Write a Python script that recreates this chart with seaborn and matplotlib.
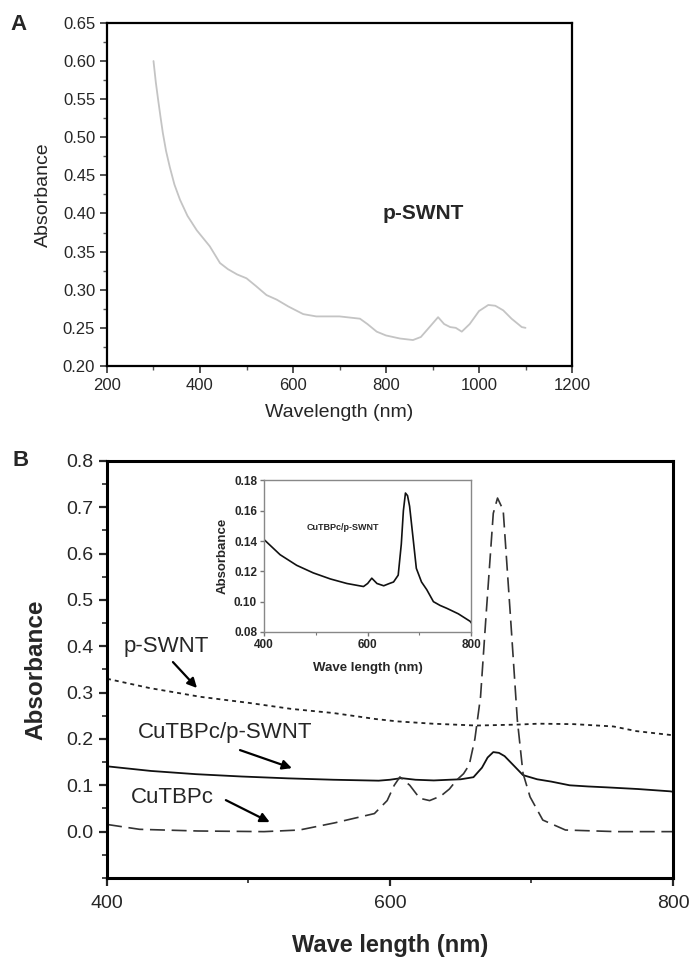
import numpy as np
import pandas as pd
import matplotlib
matplotlib.use("Agg")
import matplotlib.pyplot as plt
from matplotlib.ticker import MultipleLocator, FixedLocator
import seaborn as sns

# ---------------- data ----------------
# Panel A: p-SWNT spectrum
a_wl = [300, 305, 310, 315, 320, 327, 335, 345, 357, 373, 393, 421, 443, 460, 480, 500,
        520, 543, 565, 590, 622, 650, 700, 744, 760, 780, 800, 830, 858, 875, 895, 912,
        925, 938, 950, 963, 980, 1000, 1020, 1035, 1052, 1070, 1092, 1100]
a_abs = [0.600, 0.572, 0.549, 0.527, 0.506, 0.482, 0.461, 0.438, 0.418, 0.397, 0.378,
         0.357, 0.335, 0.327, 0.320, 0.315, 0.305, 0.293, 0.287, 0.278, 0.268, 0.265,
         0.265, 0.262, 0.255, 0.245, 0.240, 0.236, 0.234, 0.238, 0.252, 0.264, 0.255,
         0.251, 0.250, 0.245, 0.255, 0.272, 0.280, 0.279, 0.273, 0.262, 0.251, 0.250]

# Panel B: p-SWNT (dotted)
p_wl = [400, 430, 466, 500, 530, 560, 590, 605, 630, 661, 690, 705, 730, 758, 774, 800]
p_abs = [0.330, 0.310, 0.291, 0.278, 0.265, 0.256, 0.243, 0.238, 0.233, 0.229, 0.231,
         0.233, 0.232, 0.227, 0.217, 0.208]

# Panel B: CuTBPc/p-SWNT (solid, also inset)
c_wl = [400, 431, 463, 495, 528, 560, 592, 600, 608, 618, 631, 642, 650, 659, 665, 669,
        673, 677, 681, 688, 694, 704, 714, 727, 740, 753, 775, 798, 800]
c_abs = [0.141, 0.131, 0.124, 0.119, 0.115, 0.112, 0.110, 0.112, 0.1155, 0.112, 0.1105,
         0.112, 0.113, 0.1175, 0.138, 0.160, 0.1717, 0.170, 0.163, 0.141, 0.122, 0.113,
         0.108, 0.100, 0.0975, 0.0956, 0.092, 0.087, 0.086]

# Panel B: CuTBPc (long dashes)
d_wl = [400, 423, 464, 511, 536, 561, 589, 598, 603, 607, 614, 621, 628, 636, 642, 647,
        652, 656, 660, 664, 668, 673, 676, 680, 685, 690, 694, 699, 708, 724, 760, 800]
d_abs = [0.0155, 0.005, 0.0014, 0.0, 0.0035, 0.019, 0.039, 0.067, 0.100, 0.118, 0.100,
         0.072, 0.067, 0.077, 0.092, 0.111, 0.125, 0.144, 0.200, 0.291, 0.471, 0.687,
         0.720, 0.694, 0.471, 0.241, 0.126, 0.075, 0.025, 0.0035, 0.0, 0.0]

# ---------------- style ----------------
sns.set_style("ticks")
plt.rcParams['font.family'] = ['Liberation Sans', 'DejaVu Sans']
plt.rcParams['xtick.direction'] = 'out'
plt.rcParams['ytick.direction'] = 'out'

fig = plt.figure(figsize=(6.93, 9.59), dpi=100)

# ---------------- Panel A ----------------
axA = fig.add_axes([0.1544, 0.6184, 0.671, 0.3577])
dfA = pd.DataFrame({"wl": a_wl, "abs": a_abs})
sns.lineplot(data=dfA, x="wl", y="abs", ax=axA, color="#c4c4c4", linewidth=1.3,
             estimator=None, sort=False)
axA.set_xlim(200, 1200)
axA.set_ylim(0.20, 0.65)
axA.xaxis.set_major_locator(MultipleLocator(200))
axA.xaxis.set_minor_locator(MultipleLocator(100))
axA.yaxis.set_major_locator(MultipleLocator(0.05))
axA.yaxis.set_minor_locator(MultipleLocator(0.025))
axA.yaxis.set_major_formatter(matplotlib.ticker.FormatStrFormatter('%.2f'))
axA.tick_params(axis='both', which='major', labelsize=12, length=5, width=1.2, color='#333333')
axA.tick_params(axis='both', which='minor', length=3, width=1, color='#555555')
for s in axA.spines.values():
    s.set_linewidth(1.6)
    s.set_color('black')
axA.set_xlabel("Wavelength (nm)", fontsize=14, labelpad=8)
axA.set_ylabel("Absorbance", fontsize=14, labelpad=8)
axA.text(880, 0.40, "p-SWNT", fontsize=15, fontweight='bold', ha='center', va='center')
fig.text(0.015, 0.974, "A", fontsize=16, fontweight='bold', ha='left', va='center')

# ---------------- Panel B ----------------
axB = fig.add_axes([0.1544, 0.0845, 0.8167, 0.4348])
dfP = pd.DataFrame({"wl": p_wl, "abs": p_abs})
dfC = pd.DataFrame({"wl": c_wl, "abs": c_abs})
dfD = pd.DataFrame({"wl": d_wl, "abs": d_abs})
sns.lineplot(data=dfP, x="wl", y="abs", ax=axB, color="#222222", linewidth=1.3,
             linestyle=(0, (2.2, 2.2)), estimator=None, sort=False)
sns.lineplot(data=dfC, x="wl", y="abs", ax=axB, color="#111111", linewidth=1.3,
             estimator=None, sort=False)
sns.lineplot(data=dfD, x="wl", y="abs", ax=axB, color="#333333", linewidth=1.2,
             linestyle=(0, (9, 4)), estimator=None, sort=False)
axB.set_xlim(400, 800)
axB.set_ylim(-0.1, 0.8)
axB.xaxis.set_major_locator(MultipleLocator(200))
axB.xaxis.set_minor_locator(MultipleLocator(100))
axB.yaxis.set_major_locator(FixedLocator([0.0, 0.1, 0.2, 0.3, 0.4, 0.5, 0.6, 0.7, 0.8]))
axB.yaxis.set_minor_locator(MultipleLocator(0.05))
axB.yaxis.set_major_formatter(matplotlib.ticker.FormatStrFormatter('%.1f'))
axB.tick_params(axis='both', which='major', labelsize=14, length=6, width=1.6)
axB.tick_params(axis='both', which='minor', length=3.5, width=1.2)
axB.tick_params(axis='x', which='major', pad=6)
for s in axB.spines.values():
    s.set_linewidth(2.2)
    s.set_color('black')
axB.set_xlabel("Wave length (nm)", fontsize=17, fontweight='bold', labelpad=16)
axB.set_ylabel("Absorbance", fontsize=17.5, fontweight='bold', labelpad=14)
fig.text(0.018, 0.5195, "B", fontsize=16, fontweight='bold', ha='left', va='center')

arrow = dict(arrowstyle='-|>', color='black', lw=1.6, mutation_scale=14, shrinkA=0, shrinkB=0)
axB.text(441.7, 0.399, "p-SWNT", fontsize=16, ha='center', va='center')
axB.annotate("", xy=(463.6, 0.310), xytext=(446.6, 0.366), arrowprops=arrow)
axB.text(483.4, 0.213, "CuTBPc/p-SWNT", fontsize=16, ha='center', va='center')
axB.annotate("", xy=(530.7, 0.137), xytext=(494, 0.176), arrowprops=arrow)
axB.text(446, 0.0745, "CuTBPc", fontsize=16, ha='center', va='center')
axB.annotate("", xy=(515, 0.0205), xytext=(484, 0.068), arrowprops=arrow)

# ---------------- Inset ----------------
axI = fig.add_axes([0.381, 0.341, 0.299, 0.158])
sns.lineplot(data=dfC, x="wl", y="abs", ax=axI, color="#111111", linewidth=1.2,
             estimator=None, sort=False)
axI.set_xlim(400, 800)
axI.set_ylim(0.08, 0.18)
axI.xaxis.set_major_locator(MultipleLocator(200))
axI.xaxis.set_minor_locator(MultipleLocator(100))
axI.yaxis.set_major_locator(MultipleLocator(0.02))
axI.yaxis.set_major_formatter(matplotlib.ticker.FormatStrFormatter('%.2f'))
axI.tick_params(axis='both', which='major', labelsize=8.5, length=3, width=1, color='#777777', pad=2)
axI.tick_params(axis='both', which='minor', length=2, width=0.8, color='#777777')
for lab in axI.get_xticklabels() + axI.get_yticklabels():
    lab.set_fontweight('bold')
for s in axI.spines.values():
    s.set_linewidth(1.0)
    s.set_color('#888888')
axI.set_xlabel("Wave length (nm)", fontsize=9.5, fontweight='bold', labelpad=8)
axI.set_ylabel("Absorbance", fontsize=9.5, fontweight='bold', labelpad=4)
axI.text(553, 0.149, "CuTBPc/p-SWNT", fontsize=6.5, fontweight='bold', ha='center', va='center')

fig.savefig("out.png", dpi=100)
